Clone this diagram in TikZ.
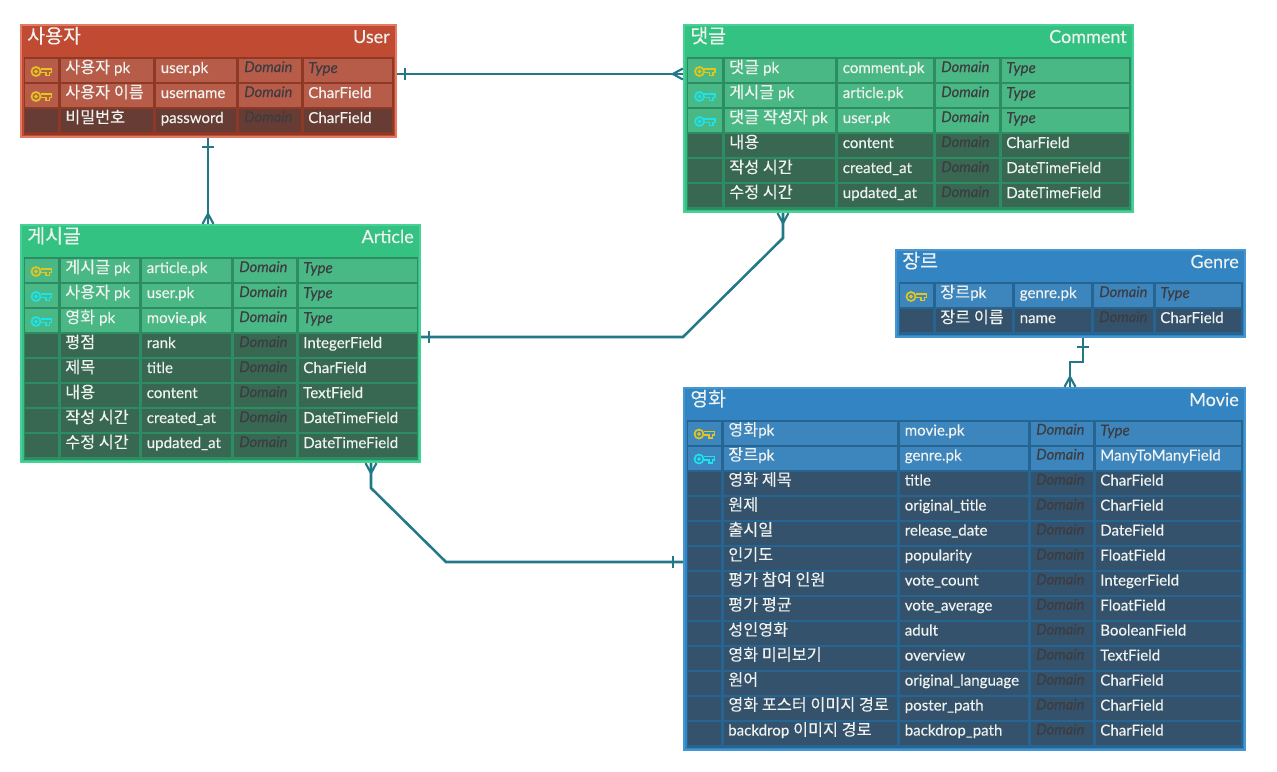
\documentclass[tikz,border=0pt]{standalone}
\usepackage{fontspec}
\setmainfont[FakeBold=0.25]{Lato}
\newfontfamily\krfont[Scale=1.08,FakeBold=0.2]{Noto Sans CJK KR}
\usetikzlibrary{fit}
\usetikzlibrary{decorations.markings}

\definecolor{userhead}{RGB}{192,74,50}
\definecolor{userline}{RGB}{226,122,100}
\definecolor{usergrid}{RGB}{142,56,38}
\definecolor{userlit}{RGB}{184,92,74}
\definecolor{userplain}{RGB}{102,60,52}
\definecolor{greenhead}{RGB}{52,194,130}
\definecolor{greenline}{RGB}{70,210,150}
\definecolor{greengrid}{RGB}{44,140,98}
\definecolor{greenlit}{RGB}{74,184,133}
\definecolor{greenplain}{RGB}{56,104,82}
\definecolor{bluehead}{RGB}{50,133,194}
\definecolor{blueline}{RGB}{70,150,210}
\definecolor{bluegrid}{RGB}{38,100,146}
\definecolor{bluelit}{RGB}{60,133,189}
\definecolor{blueplain}{RGB}{52,82,107}
\definecolor{keygold}{RGB}{226,198,30}
\definecolor{keycyan}{RGB}{30,226,235}
\definecolor{connline}{RGB}{35,120,135}
\definecolor{celltext}{RGB}{240,242,240}
\definecolor{holdertext}{RGB}{38,38,44}

\newcommand{\K}[1]{{\krfont #1}}
\newcommand{\typeholder}{\textit{\color{holdertext!75!gray}Type}}
\newcommand{\usepal}[1]{%
    \colorlet{headc}{#1head}\colorlet{linec}{#1line}\colorlet{gridc}{#1grid}%
    \colorlet{litc}{#1lit}\colorlet{plainc}{#1plain}}
% left edge, then the right edge of each of the five columns
\newcommand{\setcols}[6]{\def\xa{#1}\def\ra{#2}\def\rb{#3}\def\rc{#4}\def\rd{#5}\def\re{#6}}

\newcommand{\entity}[7]{%
    \node[entbox, fit={(#2,#3) (#4,#5)}] (#1) {};
    \fill[gridc] (#2+2.5,#3+32) rectangle (#4-2.5,#5-2.5);
    \node[enttitle, anchor=base west] (#1-ko) at (#2+6,#3+18) {\K{#6}};
    \node[enttitle, anchor=base east] (#1-en) at (#4-6,#3+18) {#7};
}

\newcommand{\errow}[6]{%
    \pgfmathsetmacro\yc{\ytop+25*(#2-1)}
    \if#3n\colorlet{rowc}{plainc}\else\colorlet{rowc}{litc}\fi
    \fill[rowc] (\xa,\yc-11.5) rectangle (\ra,\yc+11.5);
    \fill[rowc] (\ra+2.5,\yc-11.5) rectangle (\rb,\yc+11.5);
    \fill[rowc] (\rb+2.5,\yc-11.5) rectangle (\rc,\yc+11.5);
    \fill[rowc] (\rc+2.5,\yc-11.5) rectangle (\rd,\yc+11.5);
    \fill[rowc] (\rd+2.5,\yc-11.5) rectangle (\re,\yc+11.5);
    \if#3y\pic[draw=keygold] at ({(\xa+\ra)/2},\yc+1) {keyicon};\fi
    \if#3c\pic[draw=keycyan] at ({(\xa+\ra)/2},\yc+1) {keyicon};\fi
    \node[cellbase] (#1-#2-label) at (\ra+7,\yc+2.5) {#4};
    \node[cellbase] (#1-#2-field) at (\rb+7.5,\yc+2.5) {#5};
    \node[cellbase, text=holdertext!75!gray, font=\fontsize{11}{12}\selectfont\itshape] (#1-#2-domain) at (\rc+8,\yc+1.5) {Domain};
    \node[cellbase] (#1-#2-type) at (\rd+7,\yc+2.5) {#6};
}

\tikzset{
    entbox/.style={draw=linec, fill=headc, line width=1.5pt, inner sep=0pt},
    enttitle/.style={text=celltext, font=\fontsize{13.5}{15}\selectfont, inner sep=0pt},
    cellbase/.style={anchor=base west, text=celltext, font=\fontsize{11.3}{13}\selectfont, inner sep=0pt},
    conn/.style={draw=connline, line width=1.9pt, line join=miter},
    onestart/.style={postaction={decorate, decoration={markings,
        mark=at position #1*0.75pt with {\draw[connline, line width=1.6pt] (0,-6) -- (0,6);}}}},
    crowstart/.style={postaction={decorate, decoration={markings,
        mark=at position 0.1pt with {\draw[connline, line width=1.6pt] (10,0) -- (0,-5.5); \draw[connline, line width=1.6pt] (10,0) -- (0,5.5);}}}},
    crowend/.style={postaction={decorate, decoration={markings,
        mark=at position -0.1pt with {\draw[connline, line width=1.6pt] (-10,0) -- (0,-5.5); \draw[connline, line width=1.6pt] (-10,0) -- (0,5.5);}}}},
    keyicon/.pic={
        \draw[line width=1.3pt, pic actions] (-5.5,0) circle (4.5);
        \draw[line width=1pt, pic actions] (-5.5,0) circle (1.2);
        \draw[line width=1.3pt, pic actions] (-1,-2.5) -- (10,-2.5) -- (10,1) -- (8,1) -- (8,4) -- (4.5,4) -- (4.5,1) -- (-1,1);
    }
}

\begin{document}
\begin{tikzpicture}[x=0.75pt, y=-0.75pt]
    \useasboundingbox (0,0) rectangle (1277,771);
    \fill[white] (0,0) rectangle (1277,771);

    % User
    \usepal{user}
    \entity{user}{21}{25}{396}{137}{사용자}{User}
    \setcols{25}{58}{153}{236}{301}{392}
    \def\ytop{70.5}
    \foreach \k/\a/\b/\t [count=\r] in {
        y/{\K{사용자} pk}/user.pk/\typeholder,
        y/{\K{사용자 이름}}/username/CharField,
        n/{\K{비밀번호}}/password/CharField} {
        \errow{user}{\r}{\k}{\a}{\b}{\t}
    }

    % Article
    \usepal{green}
    \entity{article}{21}{225}{420}{462}{게시글}{Article}
    \setcols{25}{58}{139}{231}{296}{417}
    \def\ytop{270.5}
    \foreach \k/\a/\b/\t [count=\r] in {
        y/{\K{게시글} pk}/article.pk/\typeholder,
        c/{\K{사용자} pk}/user.pk/\typeholder,
        c/{\K{영화} pk}/movie.pk/\typeholder,
        n/{\K{평점}}/rank/IntegerField,
        n/{\K{제목}}/title/CharField,
        n/{\K{내용}}/content/TextField,
        n/{\K{작성 시간}}/created\_at/DateTimeField,
        n/{\K{수정 시간}}/updated\_at/DateTimeField} {
        \errow{article}{\r}{\k}{\a}{\b}{\t}
    }

    % Comment
    \entity{comment}{684}{25}{1133}{212}{댓글}{Comment}
    \setcols{688}{722}{835}{933}{999}{1129}
    \def\ytop{70.5}
    \foreach \k/\a/\b/\t [count=\r] in {
        y/{\K{댓글} pk}/comment.pk/\typeholder,
        c/{\K{게시글} pk}/article.pk/\typeholder,
        c/{\K{댓글 작성자} pk}/user.pk/\typeholder,
        n/{\K{내용}}/content/CharField,
        n/{\K{작성 시간}}/created\_at/DateTimeField,
        n/{\K{수정 시간}}/updated\_at/DateTimeField} {
        \errow{comment}{\r}{\k}{\a}{\b}{\t}
    }

    % Genre
    \usepal{blue}
    \entity{genre}{896}{250}{1245}{337}{장르}{Genre}
    \setcols{900}{933}{1012}{1091}{1153}{1241}
    \def\ytop{295.5}
    \foreach \k/\a/\b/\t [count=\r] in {
        y/{\K{장르}pk}/genre.pk/\typeholder,
        n/{\K{장르 이름}}/name/CharField} {
        \errow{genre}{\r}{\k}{\a}{\b}{\t}
    }

    % Movie
    \entity{movie}{684}{388}{1245}{750}{영화}{Movie}
    \setcols{688}{721}{897}{1028}{1093}{1241}
    \def\ytop{433}
    \foreach \k/\a/\b/\t [count=\r] in {
        y/{\K{영화}pk}/movie.pk/\typeholder,
        c/{\K{장르}pk}/genre.pk/ManyToManyField,
        n/{\K{영화 제목}}/title/CharField,
        n/{\K{원제}}/original\_title/CharField,
        n/{\K{출시일}}/release\_date/DateField,
        n/{\K{인기도}}/popularity/FloatField,
        n/{\K{평가 참여 인원}}/vote\_count/IntegerField,
        n/{\K{평가 평균}}/vote\_average/FloatField,
        n/{\K{성인영화}}/adult/BooleanField,
        n/{\K{영화 미리보기}}/overview/TextField,
        n/{\K{원어}}/original\_language/CharField,
        n/{\K{영화 포스터 이미지 경로}}/poster\_path/CharField,
        n/{backdrop \K{이미지 경로}}/backdrop\_path/CharField} {
        \errow{movie}{\r}{\k}{\a}{\b}{\t}
    }

    % connectors
    \coordinate (userR) at (user.east |- 0,74);
    \coordinate (commentL) at (comment.west |- 0,74);
    \coordinate (userB) at (user.south -| 208,0);
    \coordinate (articleT) at (article.north -| 208,0);
    \coordinate (commentB) at (comment.south -| 783,0);
    \coordinate (articleR) at (article.east |- 0,337);
    \coordinate (articleB) at (article.south -| 371,0);
    \coordinate (movieL) at (movie.west |- 0,562);
    \coordinate (genreB) at (genre.south -| 1083,0);
    \coordinate (movieT) at (movie.north -| 1070,0);

    \draw[conn, onestart=8, crowend] (userR) -- (commentL);
    \draw[conn, onestart=9, crowend] (userB) -- (articleT);
    \draw[conn, crowstart, postaction={decorate, decoration={markings,
        mark=at position -8*0.75pt with {\draw[connline, line width=1.6pt] (0,-6) -- (0,6);}}}]
        (commentB) -- (783,238) -- (683,337) -- (articleR);
    \draw[conn, crowstart, postaction={decorate, decoration={markings,
        mark=at position -10*0.75pt with {\draw[connline, line width=1.6pt] (0,-6) -- (0,6);}}}]
        (articleB) -- (371,488) -- (446,562) -- (movieL);
    \draw[conn, onestart=9, crowend] (genreB) -- (1083,362) -- (1070,362) -- (movieT);
\end{tikzpicture}
\end{document}
